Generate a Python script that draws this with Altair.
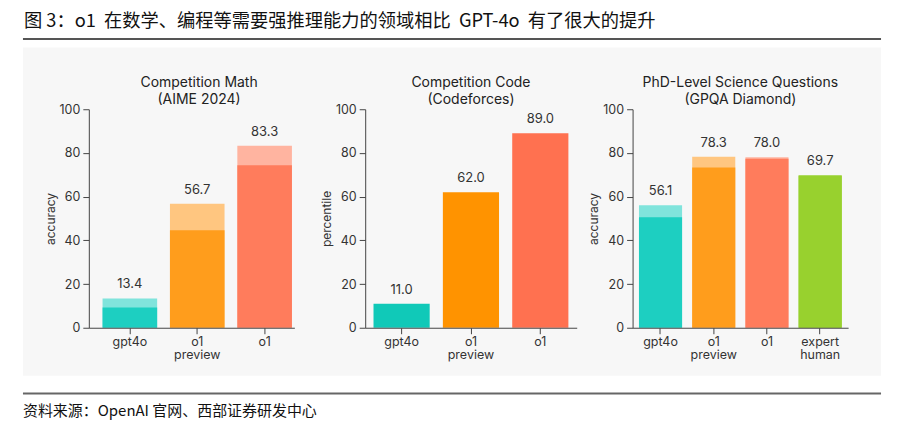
import altair as alt
import pandas as pd

# ---------------- data ----------------
NB = "\u00a0"
caption = "图 3：o1" + NB * 2 + "在数学、编程等需要强推理能力的领域相比" + NB * 2 + "GPT-4o" + NB * 2 + "有了很大的提升"
source = "资料来源：OpenAI 官网、西部证券研发中心"

math_title = ["Competition Math", "(AIME 2024)"]
math_cats = ["gpt4o", "o1 preview", "o1"]
math_base = [9.3, 44.6, 74.4]
math_total = [13.4, 56.7, 83.3]

code_title = ["Competition Code", "(Codeforces)"]
code_cats = ["gpt4o", "o1 preview", "o1"]
code_vals = [11.0, 62.0, 89.0]

gpqa_title = ["PhD-Level Science Questions", "(GPQA Diamond)"]
gpqa_cats = ["gpt4o", "o1 preview", "o1", "expert human"]
gpqa_base = [50.6, 73.3, 77.3, 69.7]
gpqa_total = [56.1, 78.3, 78.0, 69.7]

y_ticks = [0, 20, 40, 60, 80, 100]

dark_colors = ["#1dcfc1", "#ff9d1c", "#ff7c5c", "#98d12e"]
light_colors = ["#80e4dc", "#ffc680", "#ffb4a0", "#98d12e"]
code_colors = ["#10c9b8", "#ff9300", "#ff7150"]

FONT = "Inter"
CJK = "Noto Sans CJK SC"
H = 219


def x_enc(cats, xrange=None, align=0.5):
    sc = dict(paddingInner=0.19, paddingOuter=0.12, align=align)
    if xrange is not None:
        sc["range"] = xrange
    return alt.X(
        "cat:N",
        sort=cats,
        scale=alt.Scale(**sc),
        axis=alt.Axis(
            title=None,
            labelAngle=0,
            tickSize=6,
            labelPadding=2,
            labelExpr="split(datum.label, ' ')",
            labelLineHeight=12.5,
            zindex=1,
        ),
    )


def y_enc(title):
    return alt.Y(
        "val:Q",
        scale=alt.Scale(domain=[0, 100], nice=False),
        axis=alt.Axis(title=title, values=y_ticks, tickSize=6, labelPadding=3, titlePadding=2, zindex=1),
    )


one = pd.DataFrame({"k": [0]})


def panel(cats, base, total, cols_dark, cols_light, title, ytitle, width, xrange=None, align=0.5):
    df = pd.DataFrame({"cat": cats, "val": total, "base": base})
    ch = alt.Chart(df)
    layers = []
    if cols_light is not None:
        layers.append(
            ch.mark_bar().encode(
                x=x_enc(cats, xrange, align),
                y=y_enc(ytitle),
                color=alt.Color("cat:N", scale=alt.Scale(domain=cats, range=cols_light[: len(cats)]), legend=None),
            )
        )
        layers.append(
            ch.mark_bar().encode(
                x=x_enc(cats, xrange, align),
                y=alt.Y("base:Q"),
                color=alt.Color("cat:N", scale=alt.Scale(domain=cats, range=cols_dark[: len(cats)]), legend=None),
            )
        )
    else:
        layers.append(
            ch.mark_bar().encode(
                x=x_enc(cats, xrange, align),
                y=y_enc(ytitle),
                color=alt.Color("cat:N", scale=alt.Scale(domain=cats, range=cols_dark[: len(cats)]), legend=None),
            )
        )
    layers.append(
        ch.mark_text(baseline="bottom", dy=-7, font=FONT, fontSize=13, color="#333").encode(
            x=x_enc(cats, xrange, align),
            y=alt.Y("val:Q"),
            text=alt.Text("val:Q", format=".1f"),
        )
    )
    layers.append(
        alt.Chart(one).mark_text(
            align="center", baseline="middle", font=FONT, fontSize=14, color="#222", lineHeight=17
        ).encode(x=alt.value(width / 2), y=alt.value(-26.5), text=alt.value(title))
    )
    return layers


deco = [
    alt.Chart(one).mark_rect(color="#ffffff").encode(
        x=alt.value(-80), x2=alt.value(804), y=alt.value(-100), y2=alt.value(313)
    ),
    alt.Chart(one).mark_rect(color="#f7f7f7").encode(
        x=alt.value(-66), x2=alt.value(794), y=alt.value(-62), y2=alt.value(267)
    ),
    alt.Chart(one).mark_rule(color="#555555", strokeWidth=2).encode(
        x=alt.value(-66), x2=alt.value(794), y=alt.value(-70.5)
    ),
    alt.Chart(one).mark_rule(color="#666666", strokeWidth=2).encode(
        x=alt.value(-66), x2=alt.value(794), y=alt.value(285)
    ),
    alt.Chart(one).mark_text(align="left", baseline="middle", font=CJK, fontSize=18.3, color="#111").encode(
        x=alt.value(-65), y=alt.value(-87), text=alt.value(caption)
    ),
    alt.Chart(one).mark_text(align="left", baseline="middle", font=CJK, fontSize=15, color="#111").encode(
        x=alt.value(-66), y=alt.value(302), text=alt.value(source)
    ),
]

l1 = panel(math_cats, math_base, math_total, dark_colors, light_colors, math_title, "accuracy", 221, [0, 206], 0.85)
p1 = alt.layer(*deco, *l1).resolve_scale(color="independent").properties(width=221, height=H)

l2 = panel(code_cats, code_vals, code_vals, code_colors, None, code_title, "percentile", 212)
p2 = alt.layer(*l2).properties(width=212, height=H)

l3 = panel(gpqa_cats, gpqa_base, gpqa_total, dark_colors, light_colors, gpqa_title, "accuracy", 216)
p3 = alt.layer(*l3).resolve_scale(color="independent").properties(width=216, height=H)

chart = (
    alt.hconcat(p1, p2, p3, spacing=56, bounds="flush")
    .properties(padding=0, background="#ffffff")
    .configure_view(stroke="transparent")
    .configure_axis(
        labelFont=FONT,
        labelFontSize=12.5,
        labelColor="#333",
        domainColor="#444",
        tickColor="#444",
        titleFont=FONT,
        titleFontSize=12,
        titleColor="#333",
        titleFontWeight="normal",
        grid=False,
    )
)

chart.save("out.html", embed_options={"renderer": "svg", "actions": False})
